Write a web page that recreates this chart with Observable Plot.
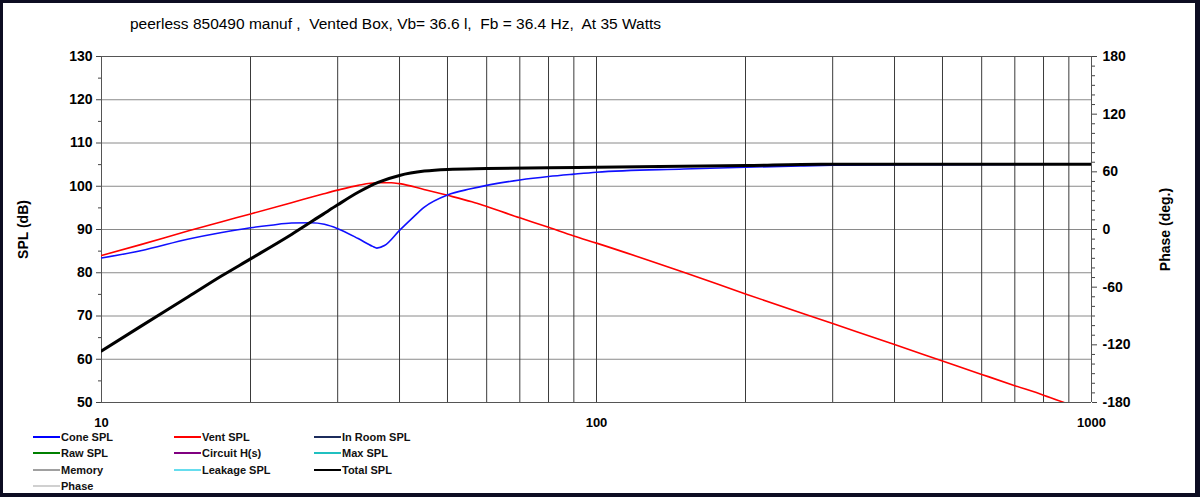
<!DOCTYPE html>
<html>
<head>
<meta charset="utf-8">
<script src="https://cdn.jsdelivr.net/npm/d3@7"></script>
<script src="https://cdn.jsdelivr.net/npm/@observablehq/plot@0.6"></script>
<style>
  html, body { margin: 0; padding: 0; background: #fff; }
  #wrap { position: relative; width: 1200px; height: 497px; overflow: hidden; font-family: "Liberation Sans", Arial, sans-serif; }
  #chart { position: absolute; left: 0; top: 0; }
  #title { position: absolute; left: 130px; top: 15px; font-size: 15.5px; color: #000; white-space: pre; }
  #legend { position: absolute; left: 0; top: 0; }
  .item { position: absolute; font-size: 11px; font-weight: bold; color: #111; white-space: nowrap; height: 14px; line-height: 14px; }
  .item span.sw { display: inline-block; width: 27px; height: 2px; vertical-align: middle; margin-right: 1px; position: relative; top: -1px; }
  #border { position: absolute; left: 0; top: 0; width: 1200px; height: 497px; box-sizing: border-box; border: 3px solid #0d0d22; border-right-width: 5px; border-bottom-width: 4px; pointer-events: none; }
</style>
</head>
<body>
<div id="wrap">
  <div id="chart"></div>
  <div id="title">peerless 850490 manuf ,  Vented Box, Vb= 36.6 l,  Fb = 36.4 Hz,  At 35 Watts</div>
  <div id="legend"></div>
  <div id="border"></div>
</div>
<script>
// ---- Data ----
const coneFreq = [10, 12, 15, 17.5, 20, 22, 24.2, 26.5, 28.2, 30, 33, 35.3, 36, 37.3, 40, 42.5, 44.9, 50, 55.7, 60, 70, 80, 90, 100, 150, 200, 258, 300, 500, 1000];
const coneSPL  = [83.4, 85.1, 87.8, 89.3, 90.4, 91.0, 91.5, 91.55, 91.2, 90.2, 87.9, 86.1, 85.7, 86.3, 89.8, 92.7, 95.2, 98.0, 99.4, 100.2, 101.45, 102.25, 102.8, 103.25, 104.0, 104.4, 104.7, 104.85, 105.0, 105.1];

const ventFreq = [10, 12, 15, 17.5, 20, 24.2, 28, 30, 33, 36, 38.5, 40, 45, 50, 56, 60, 70, 80, 90, 100, 150, 200, 300, 400, 500, 600, 700, 800, 880];
const ventSPL  = [84.0, 86.5, 89.7, 91.8, 93.6, 96.2, 98.2, 99.1, 100.2, 100.8, 100.8, 100.6, 99.2, 97.9, 96.4, 95.3, 92.7, 90.5, 88.5, 86.85, 80.1, 75.1, 68.25, 63.4, 59.6, 56.5, 53.9, 51.7, 50.0];

const totalFreq = [10, 12, 15, 17.5, 20, 24.2, 28, 30, 33, 36.2, 40, 44.9, 50, 60, 80, 100, 200, 284, 500, 1000];
const totalSPL  = [61.9, 67.6, 74.5, 79.3, 83.2, 88.85, 93.5, 95.7, 98.6, 100.9, 102.5, 103.5, 103.9, 104.1, 104.3, 104.4, 104.8, 105.1, 105.1, 105.1];

const xLabelTicks = [10, 100, 1000];
const xGridTicks = [20, 30, 40, 50, 60, 70, 80, 90, 100, 200, 300, 400, 500, 600, 700, 800, 900];
const yMajorTicks = [50, 60, 70, 80, 90, 100, 110, 120, 130];
const yMinorTicks = [55, 65, 75, 85, 95, 105, 115, 125];
const phaseMajorTicks = [-180, -120, -60, 0, 60, 120, 180];
const phaseMinorTicks = d3.range(-180, 181, 10).filter(p => p % 60 !== 0);

const legendItems = [
  {name: "Cone SPL", color: "#0000ff", col: 0, row: 0},
  {name: "Vent SPL", color: "#ff0000", col: 1, row: 0},
  {name: "In Room SPL", color: "#1c2c5c", col: 2, row: 0},
  {name: "Raw SPL", color: "#008000", col: 0, row: 1},
  {name: "Circuit H(s)", color: "#800080", col: 1, row: 1},
  {name: "Max SPL", color: "#20c0c0", col: 2, row: 1},
  {name: "Memory", color: "#a0a0a0", col: 0, row: 2},
  {name: "Leakage SPL", color: "#66ddee", col: 1, row: 2},
  {name: "Total SPL", color: "#000000", col: 2, row: 2},
  {name: "Phase", color: "#d0d0d0", col: 0, row: 3}
];

// phase (deg) -> SPL scale position (phase -180..180 spans 50..130 dB)
const phaseToDb = p => 90 + p * 80 / 360;

const cone = coneFreq.map((f, i) => ({f, v: coneSPL[i]}));
const vent = ventFreq.map((f, i) => ({f, v: ventSPL[i]}));
const total = totalFreq.map((f, i) => ({f, v: totalSPL[i]}));

const chart = Plot.plot({
  width: 1200,
  height: 497,
  marginLeft: 101,
  marginRight: 109,
  marginTop: 56,
  marginBottom: 95,
  style: {fontFamily: "'Liberation Sans', Arial, sans-serif", fontSize: "13px", fontWeight: "bold", color: "#000", background: "transparent"},
  x: {type: "log", domain: [10, 1000]},
  y: {domain: [50, 130]},
  marks: [
    Plot.ruleY(yMajorTicks.filter(d => d > 50 && d < 130), {stroke: "#8a8a8a", strokeWidth: 1}),
    Plot.ruleX(xGridTicks, {stroke: "#3a3a3a", strokeWidth: 1}),
    Plot.ruleY([130], {stroke: "#555", strokeWidth: 1}),
    Plot.ruleX([10, 1000], {stroke: "#555", strokeWidth: 1}),
    Plot.ruleY([50], {stroke: "#555", strokeWidth: 1}),
    // left axis
    Plot.axisY(yMajorTicks, {anchor: "left", tickSize: 5, tickPadding: 4, label: "SPL (dB)", labelAnchor: "center", labelOffset: 83, labelArrow: "none", fontSize: 14, stroke: "#444"}),
    Plot.axisY(yMinorTicks, {anchor: "left", tickSize: 3, text: null, label: null, stroke: "#444"}),
    // right (phase) axis
    Plot.axisY(phaseMajorTicks.map(phaseToDb), {anchor: "right", tickSize: 5, tickPadding: 6, tickFormat: d => String(Math.round((d - 90) * 360 / 80)), label: "Phase (deg.)", labelAnchor: "center", labelOffset: 78, labelArrow: "none", fontSize: 14, stroke: "#444"}),
    Plot.axisY(phaseMinorTicks.map(phaseToDb), {anchor: "right", tickSize: 3, text: null, label: null, stroke: "#444"}),
    // x axis
    Plot.axisX(xLabelTicks, {anchor: "bottom", tickSize: 0, tickPadding: 15, tickFormat: d => String(d), label: null}),
    // curves
    Plot.line(vent, {x: "f", y: "v", stroke: "#ff0000", strokeWidth: 1.6, curve: "monotone-x", clip: true}),
    Plot.line(cone, {x: "f", y: "v", stroke: "#1010ff", strokeWidth: 1.6, curve: "monotone-x", clip: true}),
    Plot.line(total, {x: "f", y: "v", stroke: "#000000", strokeWidth: 3, curve: "monotone-x", clip: true})
  ]
});
document.getElementById("chart").appendChild(chart);

// legend
const colX = [33, 174, 314];
const rowY = [430, 446, 463, 479];
const leg = document.getElementById("legend");
for (const it of legendItems) {
  const d = document.createElement("div");
  d.className = "item";
  d.style.left = colX[it.col] + "px";
  d.style.top = rowY[it.row] + "px";
  d.innerHTML = `<span class="sw" style="background:${it.color}"></span>${it.name}`;
  leg.appendChild(d);
}
</script>
</body>
</html>
